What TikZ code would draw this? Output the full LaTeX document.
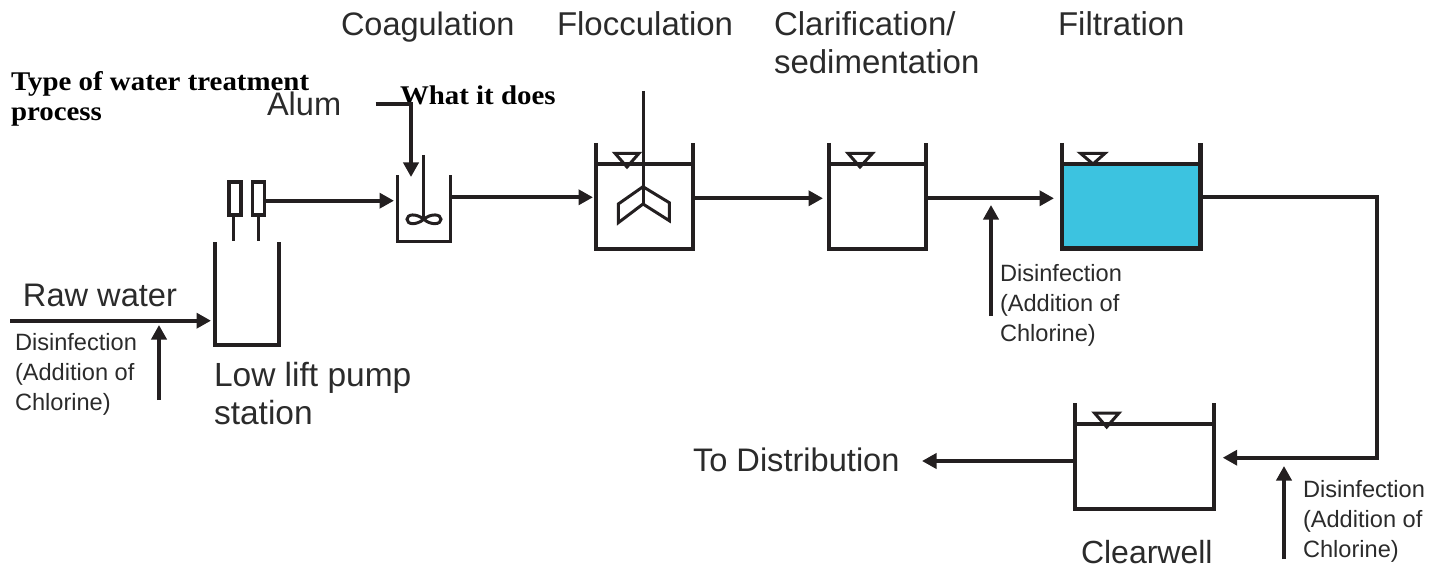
\documentclass[tikz,border=0pt]{standalone}
\usepackage{fontspec}
\setmainfont{Liberation Sans}
\newfontfamily\headfont[FakeStretch=1.07]{Liberation Serif}
\usetikzlibrary{arrows.meta}
\definecolor{ink}{HTML}{231F20}
\definecolor{label}{HTML}{2B2B2B}
\definecolor{filterblue}{HTML}{3CC3E0}
\tikzset{
  x=1pt,y=-1pt,
  txt/.style={inner sep=0pt,outer sep=0pt,anchor=base west,align=left,text=label},
  big/.style={txt,font=\fontsize{33}{38}\selectfont},
  mid/.style={txt,font=\fontsize{32.6}{38}\selectfont},
  small/.style={txt,font=\fontsize{23.6}{30}\selectfont},
  head/.style={txt,text=black,font=\headfont\bfseries\fontsize{27}{30}\selectfont},
  pipe/.style={draw=ink,line width=3.8pt},
  wall/.style={draw=ink,line width=4pt,line join=miter},
  thin/.style={draw=ink,line width=3pt,line join=miter},
  flow/.style={pipe,-{Triangle[length=14.5pt,width=15pt]}},
  pump/.style={draw=ink,line width=3.4pt,minimum width=12pt,minimum height=33pt,inner sep=0pt},
}
\begin{document}
\begin{tikzpicture}
\useasboundingbox (0,0) rectangle (1443,567);
% text
\node[big,font=\fontsize{32.5}{38}\selectfont] (coag) at (341,36) {Coagulation};
\node[big] (floc) at (557,36) {Flocculation};
\node[big] (clart) at (774,74) {Clarification/\\sedimentation};
\node[big] (filt) at (1058,36) {Filtration};
\node[mid] (alum) at (267,116) {Alum};
\node[mid] (raw) at (23,306) {Raw water};
\node[mid,font=\fontsize{33.5}{38}\selectfont] (low) at (214,424) {Low lift pump\\station};
\node[mid] (todist) at (693,471) {To Distribution};
\node[mid,font=\fontsize{32}{38}\selectfont] (cw) at (1081,563) {Clearwell};
\node[small] (d1) at (15,410.5) {Disinfection\\(Addition of\\Chlorine)};
\node[small] (d2) at (1000,341) {Disinfection\\(Addition of\\Chlorine)};
\node[small] (d3) at (1303,557) {Disinfection\\(Addition of\\Chlorine)};
\node[head] (type) at (11,121) {Type of water treatment\\process};
\node[head] (what) at (400,105) {What it does};
% anchors of the tanks
\coordinate (lowTL) at (214.5,242); \coordinate (lowBR) at (279,345);
\coordinate (mixTL) at (397.7,175); \coordinate (mixBR) at (450.7,241.7);
\coordinate (flocTL) at (596,143); \coordinate (flocBR) at (693.3,249);
\coordinate (clarTL) at (829.3,143); \coordinate (clarBR) at (926,249);
\coordinate (filtTL) at (1062,143); \coordinate (filtBR) at (1200.3,248.3);
\coordinate (wellTL) at (1075.3,403.3); \coordinate (wellBR) at (1214,509);
% filter water
\fill[filterblue] (1062,164) rectangle (filtBR);
% tanks
\draw[wall] (lowTL) -- (lowTL |- lowBR) -- (lowBR) -- (lowBR |- lowTL);
\draw[thin,line width=3.4pt] (mixTL) -- (mixTL |- mixBR) -- (mixBR) -- (mixBR |- mixTL);
\draw[wall] (flocTL) -- (flocTL |- flocBR) -- (flocBR) -- (flocBR |- flocTL);
\draw[wall] (clarTL) -- (clarTL |- clarBR) -- (clarBR) -- (clarBR |- clarTL);
\draw[wall,line width=4.6pt] (filtTL) -- (filtTL |- filtBR) -- (filtBR) -- (filtBR |- filtTL);
\draw[wall] (wellTL) -- (wellTL |- wellBR) -- (wellBR) -- (wellBR |- wellTL);
% water levels and triangles
\draw[wall,line width=3.6pt] (596,164) -- (693.3,164);
\draw[wall,line width=3.6pt] (829.3,164) -- (926,164);
\draw[wall] (1062,164) -- (1200.3,164);
\draw[wall] (1075.3,424) -- (1214,424);
\draw[thin] (615,153.3) -- (639,153.3) -- (627,167) -- cycle;
\draw[thin] (848,153.3) -- (872.5,153.3) -- (860,167) -- cycle;
\draw[thin] (1080.5,153.3) -- (1105,153.3) -- (1093,164) -- cycle;
\draw[thin] (1094.5,413) -- (1119,413) -- (1106.7,427) -- cycle;
% flocculator
\draw[thin] (643,91) -- (643,204);
\draw[thin] (643,186.7) -- (618.3,204) -- (618.3,222.7) -- (643,204) -- (669.3,220.7) -- (669.3,202.7) -- cycle;
% pump
\node[pump] (p1) at (235,198.5) {};
\node[pump] (p2) at (258.5,198.5) {};
\coordinate (s1) at (233.7,241);
\coordinate (s2) at (258.7,241);
\draw[thin] (p1.south -| s1) -- (s1);
\draw[thin] (p2.south -| s2) -- (s2);
% rapid mixer
\draw[thin] (423.3,155) -- (423.3,219);
\draw[thin] (423.8,219.3) .. controls (416,213) and (407,214) .. (407,219.3) .. controls (407,224.6) and (416,225.6) .. (423.8,219.3) .. controls (431,213) and (441,214) .. (441,219.3) .. controls (441,224.6) and (431,225.6) .. (423.8,219.3) -- cycle;
% connectors
\coordinate (rawS) at (10,320.7);
\draw[flow] (rawS) -- (211,320.7);
\coordinate (a1) at (159,400);
\draw[flow] (a1) -- (159,325);
\draw[flow] (p2.east |- 0,200.7) -- (394,200.7);
\coordinate (alumS) at (375.7,103.7);
\draw[pipe,line join=miter] (alumS) -- (411,103.7) -- (411,115);
\draw[flow] (411,103.7) -- (411,177);
\draw[flow] (450.7,197.3) -- (593,197.3);
\draw[flow] (693.3,198.3) -- (823,198.3);
\draw[flow] (926,198.3) -- (1054,198.3);
\coordinate (a2) at (991,316);
\draw[flow] (a2) -- (991,205);
\draw[flow] (1200.3,197) -- (1377.3,197) -- (1377.3,457.7) -- (1222.7,457.7);
\coordinate (a3) at (1284,559);
\draw[flow] (a3) -- (1284,466);
\draw[flow] (1075.3,461) -- (922,461);
\end{tikzpicture}
\end{document}
